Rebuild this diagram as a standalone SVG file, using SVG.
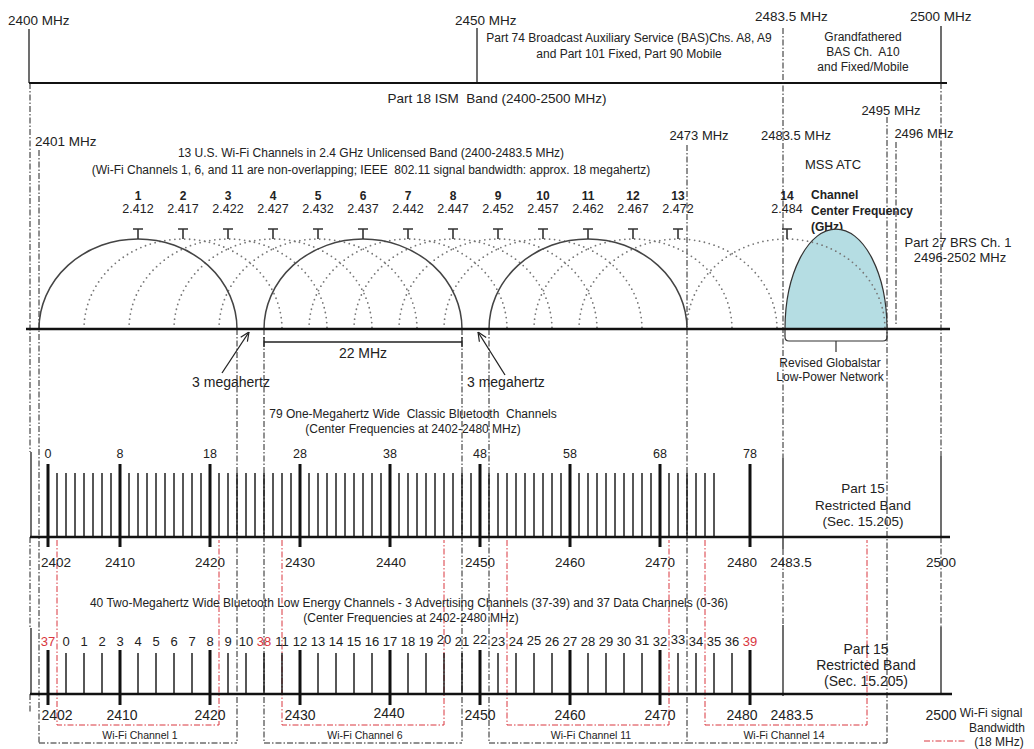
<svg xmlns="http://www.w3.org/2000/svg" width="1034" height="749" viewBox="0 0 1034 749">
<defs>
<style>
.t{font-family:'Liberation Sans',Arial,sans-serif;fill:#222}
.c{text-anchor:middle}
.b{font-weight:bold}
.r{fill:#d9363e}
.dd{stroke:#222;stroke-width:1;stroke-dasharray:6 2 1.5 2;fill:none}
.rd{stroke:#d9363e;stroke-width:1;stroke-dasharray:6 2 1.5 2;fill:none}
.sl{stroke:#222;stroke-width:1.3;fill:none}
.ax{stroke:#111;stroke-width:2.5;fill:none}
.arc{fill:none;stroke:#444;stroke-width:1.5}
.darc{fill:none;stroke:#777;stroke-width:1.8;stroke-dasharray:0 5;stroke-linecap:round}
.tk{stroke:#111;stroke-width:1.4;fill:none}
.tkb{stroke:#111;stroke-width:3;fill:none}
</style>
<marker id="arr" viewBox="0 0 10 10" refX="10" refY="5" markerWidth="10" markerHeight="10" markerUnits="userSpaceOnUse" orient="auto">
<path d="M1,1 L10,5 L1,9" fill="none" stroke="#222" stroke-width="1.2"/>
</marker>
</defs>
<rect width="1034" height="749" fill="#fff"/>

<g id="connectors">
<path class="sl" d="M29 29V83M477 28V83M941 26V83"/>
<path d="M29 83H947" stroke="#111" stroke-width="2"/>
<path class="dd" d="M30 83V452M30 537V628M30 694V712"/>
<path class="dd" d="M39 150V743"/>
<path class="dd" d="M237 329V743M264 329V743M462 329V743M489 329V743"/>
<path class="dd" d="M687 145V743"/>
<path class="dd" d="M783 28V458M783 549V625"/>
<path class="dd" d="M887 117V743"/>
<path class="dd" d="M896 142V326"/>
<path class="dd" d="M941 83V456M941 537V627"/>
<path class="dd" d="M39 743H237M264 743H462M489 743H687M687 743H887"/>
<path class="rd" d="M57 540V725H219V540M282 540V725H444V540M507 540V725H669V540M705 540V725H867V540"/>
<path class="sl" d="M264 342H462M264 337v10M462 337v10" stroke-width="1.7"/>
<path class="sl" d="M222 373L249 332" marker-end="url(#arr)"/>
<path class="sl" d="M505 375L478 332" marker-end="url(#arr)"/>
</g>

<g id="top-band">
<text class="t" x="8" y="25" font-size="13.5">2400 MHz</text>
<text class="t" x="455" y="25" font-size="13.5">2450 MHz</text>
<text class="t" x="755" y="21" font-size="13.5">2483.5 MHz</text>
<text class="t" x="910" y="21" font-size="13.5">2500 MHz</text>
<text class="t c" x="629" y="42" font-size="12">Part 74 Broadcast Auxiliary Service (BAS)Chs. A8, A9</text>
<text class="t c" x="629" y="58" font-size="12">and Part 101 Fixed, Part 90 Mobile</text>
<text class="t c" x="863" y="41" font-size="12">Grandfathered</text>
<text class="t c" x="863" y="56" font-size="12" xml:space="preserve">BAS Ch.  A10</text>
<text class="t c" x="863" y="71" font-size="12">and Fixed/Mobile</text>
<text class="t c" x="497" y="103" font-size="13.5" xml:space="preserve">Part 18 ISM  Band (2400-2500 MHz)</text>
</g>

<g id="wifi-labels">
<text class="t" x="35" y="146" font-size="13.5">2401 MHz</text>
<text class="t c" x="891" y="115" font-size="13">2495 MHz</text>
<text class="t c" x="699" y="140" font-size="13">2473 MHz</text>
<text class="t c" x="796" y="140" font-size="13">2483.5 MHz</text>
<text class="t c" x="924" y="138" font-size="13">2496 MHz</text>
<text class="t c" x="833" y="169" font-size="13">MSS ATC</text>
<text class="t c" x="371" y="157" font-size="12">13 U.S. Wi-Fi Channels in 2.4 GHz Unlicensed Band (2400-2483.5 MHz)</text>
<text class="t c" x="371" y="174" font-size="12" xml:space="preserve">(Wi-Fi Channels 1, 6, and 11 are non-overlapping; IEEE  802.11 signal bandwidth: approx. 18 megahertz)</text>
<text class="t b" x="811" y="199" font-size="12">Channel</text>
<text class="t b" x="811" y="215" font-size="12">Center Frequency</text>
<text class="t b" x="811" y="231" font-size="12">(GHz)</text>
<text class="t c" x="958" y="247" font-size="13">Part 27 BRS Ch. 1</text>
<text class="t c" x="960" y="262" font-size="13">2496-2502 MHz</text>
</g>

<g id="globalstar">
<path d="M785 329A51 100 0 0 1 887 329Z" fill="#b5dde3" stroke="#333" stroke-width="1.2"/>
<path d="M785 329V337Q785 341 789 341H883Q887 341 887 337V329M836 341V352" fill="none" stroke="#333" stroke-width="1.2"/>
<text class="t c" x="830" y="367" font-size="12">Revised Globalstar</text>
<text class="t c" x="830" y="381" font-size="12">Low-Power Network</text>
</g>

<g id="wifi-channels">
<g class="darc">
<path d="M84 329A99 90 0 0 1 282 329"/>
<path d="M129 329A99 90 0 0 1 327 329"/>
<path d="M174 329A99 90 0 0 1 372 329"/>
<path d="M219 329A99 90 0 0 1 417 329"/>
<path d="M309 329A99 90 0 0 1 507 329"/>
<path d="M354 329A99 90 0 0 1 552 329"/>
<path d="M399 329A99 90 0 0 1 597 329"/>
<path d="M444 329A99 90 0 0 1 642 329"/>
<path d="M534 329A99 90 0 0 1 732 329"/>
<path d="M579 329A99 90 0 0 1 777 329"/>
<path d="M687 329A99 90 0 0 1 885 329"/>
</g>
<g class="arc">
<path d="M39 329A99 90 0 0 1 237 329"/>
<path d="M264 329A99 90 0 0 1 462 329"/>
<path d="M489 329A99 90 0 0 1 687 329"/>
</g>
<path d="M133 229h10M138 229v10M178 229h10M183 229v10M223 229h10M228 229v10M268 229h10M273 229v10M313 229h10M318 229v10M358 229h10M363 229v10M403 229h10M408 229v10M448 229h10M453 229v10M493 229h10M498 229v10M538 229h10M543 229v10M583 229h10M588 229v10M628 229h10M633 229v10M673 229h10M678 229v10M782 229h10M787 229v10" stroke="#333" stroke-width="1.6" fill="none"/>
<g class="t c b" font-size="12">
<text x="138" y="200">1</text><text x="183" y="200">2</text><text x="228" y="200">3</text><text x="273" y="200">4</text><text x="318" y="200">5</text><text x="363" y="200">6</text><text x="408" y="200">7</text><text x="453" y="200">8</text><text x="498" y="200">9</text><text x="543" y="200">10</text><text x="588" y="200">11</text><text x="633" y="200">12</text><text x="678" y="200">13</text><text x="787" y="200">14</text>
</g>
<g class="t c" font-size="12.5">
<text x="138" y="213">2.412</text><text x="183" y="213">2.417</text><text x="228" y="213">2.422</text><text x="273" y="213">2.427</text><text x="318" y="213">2.432</text><text x="363" y="213">2.437</text><text x="408" y="213">2.442</text><text x="453" y="213">2.447</text><text x="498" y="213">2.452</text><text x="543" y="213">2.457</text><text x="588" y="213">2.462</text><text x="633" y="213">2.467</text><text x="678" y="213">2.472</text><text x="787" y="213">2.484</text>
</g>
<path class="ax" d="M26 329H950"/>
<text class="t c" x="363" y="358" font-size="14">22 MHz</text>
<text class="t c" x="231" y="387" font-size="14">3 megahertz</text>
<text class="t" x="467" y="387" font-size="14">3 megahertz</text>
</g>

<g id="bt-classic">
<text class="t c" x="413" y="418" font-size="12" xml:space="preserve">79 One-Megahertz Wide  Classic Bluetooth  Channels</text>
<text class="t c" x="413" y="433" font-size="12">(Center Frequencies at 2402-2480 MHz)</text>
<g class="t c" font-size="12.5">
<text x="48" y="458">0</text><text x="120" y="458">8</text><text x="210" y="458">18</text><text x="300" y="458">28</text><text x="390" y="458">38</text><text x="480" y="458">48</text><text x="570" y="458">58</text><text x="660" y="458">68</text><text x="750" y="458">78</text>
</g>
<path class="tk" d="M57 473v64m9-64v64m9-64v64m9-64v64m9-64v64m9-64v64m9-64v64m9-64v64m9-64v64m9-64v64m9-64v64m9-64v64m9-64v64m9-64v64m9-64v64m9-64v64m9-64v64m9-64v64m9-64v64m9-64v64m9-64v64m9-64v64m9-64v64m9-64v64m9-64v64m9-64v64m9-64v64m9-64v64m9-64v64m9-64v64m9-64v64m9-64v64m9-64v64m9-64v64m9-64v64m9-64v64m9-64v64m9-64v64m9-64v64m9-64v64m9-64v64m9-64v64m9-64v64m9-64v64m9-64v64m9-64v64m9-64v64m9-64v64m9-64v64m9-64v64m9-64v64m9-64v64m9-64v64m9-64v64m9-64v64m9-64v64m9-64v64m9-64v64m9-64v64m9-64v64m9-64v64m9-64v64m9-64v64m9-64v64m9-64v64m9-64v64m9-64v64m9-64v64m9-64v64m9-64v64m9-64v64m9-64v64m9-64v64m9-64v64"/>
<path class="tkb" d="M48 464V547M120 464V547M210 464V547M300 464V547M390 464V547M480 464V547M570 464V547M660 464V547M750 464V547"/>
<path class="sl" d="M31 452V537M783 458V549M941 456V537" stroke-width="1.5"/>
<path class="ax" d="M30 537H950"/>
<g class="t c" font-size="13.5">
<text x="56" y="567">2402</text><text x="120" y="567">2410</text><text x="210" y="567">2420</text><text x="300" y="567">2430</text><text x="391" y="567">2440</text><text x="480" y="567">2450</text><text x="570" y="567">2460</text><text x="660" y="567">2470</text><text x="742" y="567">2480</text><text x="791" y="567">2483.5</text><text x="941" y="567">2500</text>
</g>
<text class="t c" x="863" y="493" font-size="13.5">Part 15</text>
<text class="t c" x="863" y="510" font-size="13.5">Restricted Band</text>
<text class="t c" x="863" y="526" font-size="13.5">(Sec. 15.205)</text>
</g>

<g id="ble">
<text class="t c" x="409" y="607" font-size="12">40 Two-Megahertz Wide Bluetooth Low Energy Channels - 3 Advertising Channels (37-39) and 37 Data Channels (0-36)</text>
<text class="t c" x="411" y="622" font-size="12">(Center Frequencies at 2402-2480 MHz)</text>
<g class="t c" font-size="13">
<text x="48" y="646" class="r">37</text><text x="66" y="646">0</text><text x="84" y="646">1</text><text x="102" y="646">2</text><text x="120" y="646">3</text><text x="138" y="646">4</text><text x="156" y="646">5</text><text x="174" y="646">6</text><text x="192" y="646">7</text><text x="210" y="646">8</text><text x="228" y="646">9</text><text x="246" y="646">10</text><text x="264" y="646" class="r">38</text><text x="282" y="646">11</text><text x="300" y="646">12</text><text x="318" y="646">13</text><text x="336" y="646">14</text><text x="354" y="646">15</text><text x="372" y="646">16</text><text x="390" y="646">17</text><text x="408" y="646">18</text><text x="426" y="646">19</text><text x="444" y="644">20</text><text x="462" y="646">21</text><text x="480" y="644">22</text><text x="498" y="646">23</text><text x="516" y="646">24</text><text x="534" y="645">25</text><text x="552" y="646">26</text><text x="570" y="646">27</text><text x="588" y="646">28</text><text x="606" y="646">29</text><text x="624" y="646">30</text><text x="642" y="645">31</text><text x="660" y="646">32</text><text x="678" y="644">33</text><text x="696" y="646">34</text><text x="714" y="646">35</text><text x="732" y="646">36</text><text x="750" y="646" class="r">39</text>
</g>
<path class="tk" d="M66 653v41m18-41v41m18-41v41m18-41v41m18-41v41m18-41v41m18-41v41m18-41v41m18-41v41m18-41v41m18-41v41m18-41v41m18-41v41m18-41v41m18-41v41m18-41v41m18-41v41m18-41v41m18-41v41m18-41v41m18-41v41m18-41v41m18-41v41m18-41v41m18-41v41m18-41v41m18-41v41m18-41v41m18-41v41m18-41v41m18-41v41m18-41v41m18-41v41m18-41v41m18-41v41m18-41v41m18-41v41m18-41v41"/>
<path class="tkb" d="M48 650V705M120 650V705M210 650V705M300 650V705M390 650V705M480 650V705M570 650V705M660 650V705M750 650V705"/>
<path class="sl" d="M31 628V694M783 625V696M941 627V694" stroke-width="1.5"/>
<path class="ax" d="M30 694H952"/>
<g class="t c" font-size="14">
<text x="57" y="720">2402</text><text x="122" y="720">2410</text><text x="210" y="720">2420</text><text x="300" y="720">2430</text><text x="389" y="718">2440</text><text x="480" y="720">2450</text><text x="570" y="720">2460</text><text x="660" y="720">2470</text><text x="742" y="720">2480</text><text x="792" y="720">2483.5</text><text x="941" y="720">2500</text>
</g>
<text class="t c" x="866" y="654" font-size="14">Part 15</text>
<text class="t c" x="866" y="670" font-size="14">Restricted Band</text>
<text class="t c" x="866" y="686" font-size="14">(Sec. 15.205)</text>
<g class="t c" font-size="10.5">
<text x="140" y="739">Wi-Fi Channel 1</text>
<text x="365" y="739">Wi-Fi Channel 6</text>
<text x="591" y="739">Wi-Fi Channel 11</text>
<text x="784" y="739">Wi-Fi Channel 14</text>
</g>
</g>

<g id="legend">
<path class="rd" d="M924 741H965"/>
<text class="t c" x="991" y="717" font-size="12">Wi-Fi signal</text>
<text class="t c" x="997" y="732" font-size="12">Bandwidth</text>
<text class="t c" x="999" y="746" font-size="12">(18 MHz)</text>
</g>
</svg>
